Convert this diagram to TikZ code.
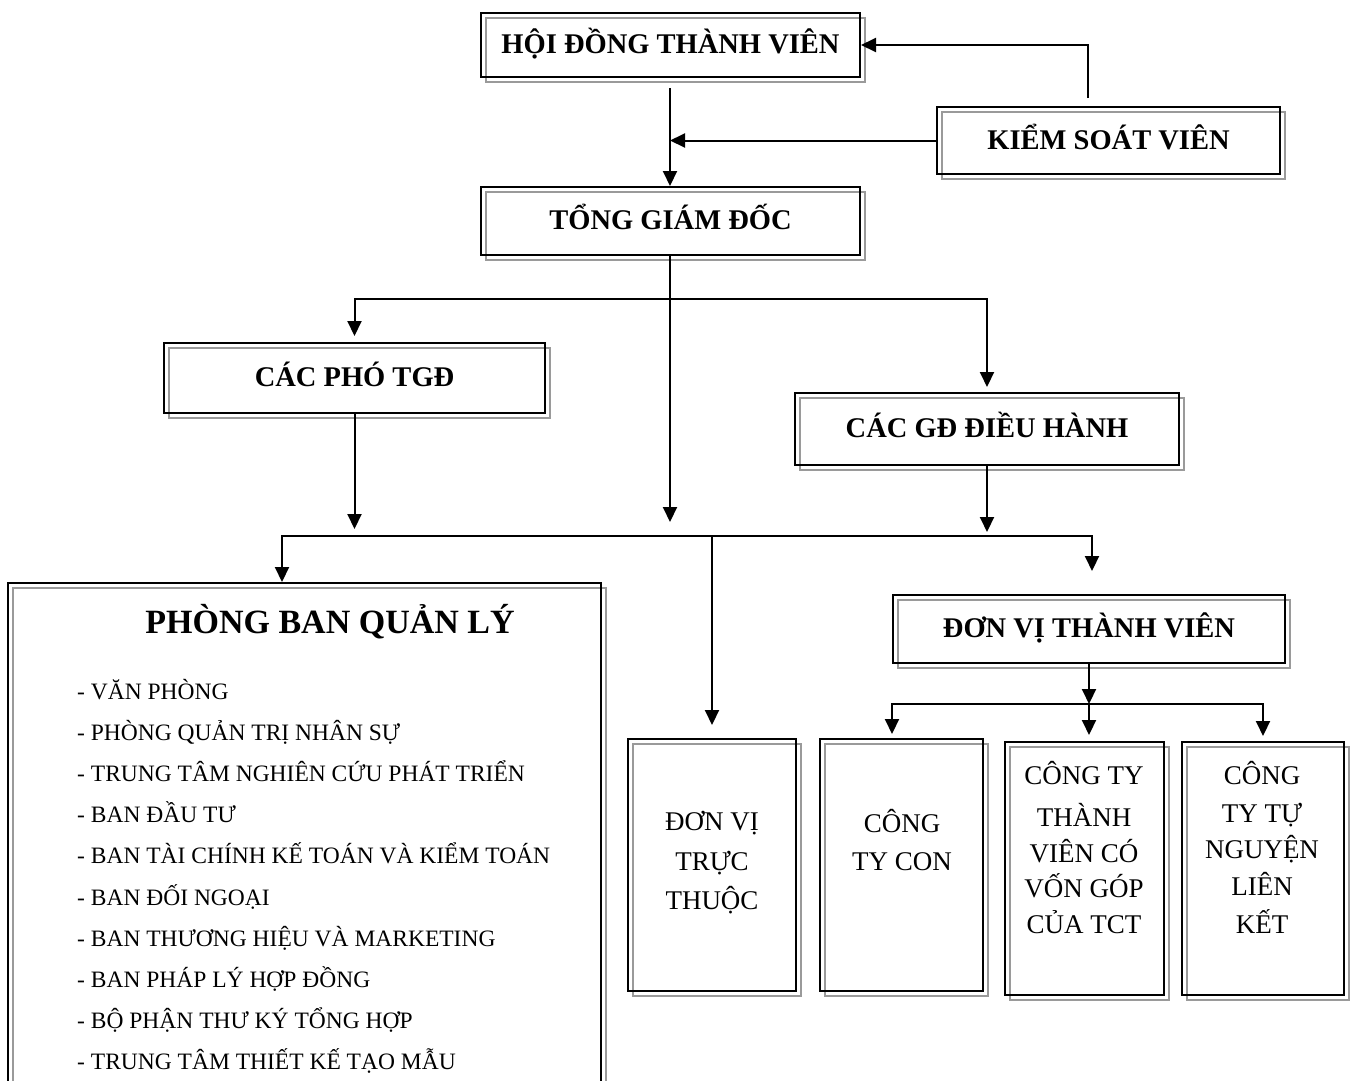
\documentclass[tikz,border=0pt]{standalone}
\usepackage{fontspec}
\setmainfont{Liberation Serif}
\usepackage{tikz}
\usetikzlibrary{arrows.meta, positioning, calc}
\definecolor{boxshadow}{HTML}{9A9A9A}

\begin{document}
\begin{tikzpicture}[x=1pt, y=-1pt,
    box/.style={rectangle, draw=black, line width=2pt, inner sep=0pt, align=center,
        preaction={draw=boxshadow, line width=2pt, transform canvas={shift={(5pt,-5pt)}}}},
    headbox/.style={box, font=\fontsize{28.5}{34}\selectfont\bfseries, text height=17pt, text depth=0pt},
    listitem/.style={anchor=base west, inner sep=0pt, font=\fontsize{23.5}{28}\selectfont},
    unittext/.style={anchor=base, inner sep=0pt, font=\fontsize{27}{32}\selectfont},
    arrow/.style={-{Triangle[length=15pt,width=14pt]}, line width=2pt}
]
\clip (0,0) rectangle (1351,1080);

% Top level
\node[headbox, minimum width=379pt, minimum height=64pt] (hdtv) at (670.5,45) {HỘI ĐỒNG THÀNH VIÊN};
\node[headbox, minimum width=343pt, minimum height=67pt] (ksv) at (1108.5,140.5) {KIỂM SOÁT VIÊN};
\node[headbox, minimum width=379pt, minimum height=68pt] (tgd) at (670.5,221) {TỔNG GIÁM ĐỐC};

% Deputies and directors
\node[headbox, minimum width=381pt, minimum height=70pt] (pho) at (354.5,378) {CÁC PHÓ TGĐ};
\node[headbox, minimum width=384pt, minimum height=72pt] (gddh) at (987,429) {CÁC GĐ ĐIỀU HÀNH};
\node[headbox, minimum width=392pt, minimum height=68pt] (dvtv) at (1089,629) {ĐƠN VỊ THÀNH VIÊN};

% Management departments
\node[box, minimum width=593pt, minimum height=530pt] (pbql) at (304.5,848) {};
\node[anchor=base, inner sep=0pt, font=\fontsize{34}{40}\selectfont\bfseries] (pbqltitle) at (330,633) {PHÒNG BAN QUẢN LÝ};
\foreach \t [count=\i] in {- VĂN PHÒNG, - PHÒNG QUẢN TRỊ NHÂN SỰ, - TRUNG TÂM NGHIÊN CỨU PHÁT TRIỂN,
    - BAN ĐẦU TƯ, - BAN TÀI CHÍNH KẾ TOÁN VÀ KIỂM TOÁN, - BAN ĐỐI NGOẠI,
    - BAN THƯƠNG HIỆU VÀ MARKETING, - BAN PHÁP LÝ HỢP ĐỒNG, - BỘ PHẬN THƯ KÝ TỔNG HỢP,
    - TRUNG TÂM THIẾT KẾ TẠO MẪU}
    \node[listitem] (pb\i) at (77,{699+41.2*(\i-1)}) {\t};

% Units
\node[box, minimum width=168pt, minimum height=252pt] (dvtt) at (712,865) {};
\node[box, minimum width=163pt, minimum height=252pt] (ctc) at (901.5,865) {};
\node[box, minimum width=159pt, minimum height=253pt] (cttv) at (1084.5,868.5) {};
\node[box, minimum width=162pt, minimum height=253pt] (cttn) at (1263,868.5) {};

\foreach \t/\y [count=\i] in {ĐƠN VỊ/830, TRỰC/870, THUỘC/909}
    \node[unittext] (dvtt\i) at (712,\y) {\t};
\foreach \t/\y [count=\i] in {CÔNG/832, TY CON/870}
    \node[unittext] (ctc\i) at (902,\y) {\t};
\foreach \t/\y [count=\i] in {CÔNG TY/784, THÀNH/826, VIÊN CÓ/862, VỐN GÓP/897, CỦA TCT/933}
    \node[unittext] (cttv\i) at (1084,\y) {\t};
\foreach \t/\y [count=\i] in {CÔNG/784, TY TỰ/822, NGUYỆN/858, LIÊN/895, KẾT/933}
    \node[unittext] (cttn\i) at (1262,\y) {\t};

% Junctions
\coordinate (jtop) at (670,299);
\coordinate (jmid) at (712,536);
\coordinate (jbot) at (1089,704);

% Connectors
\draw[arrow] ([xshift=-0.5pt,yshift=-10pt]hdtv.south) -- ([xshift=-0.5pt]tgd.north);
\draw[arrow] ([xshift=-20.5pt,yshift=8pt]ksv.north) |- (hdtv.east);
\draw[arrow] (ksv.west) -- (ksv.west -| jtop);
\draw[arrow, shorten >=14pt] (tgd.south -| jtop) -- (jtop |- jmid);
\draw[arrow, shorten >=6pt] (jtop) -| (pho.north);
\draw[arrow, shorten >=5pt] (jtop) -| (gddh.north);
\draw[arrow, shorten >=7pt] (pho.south) -- (pho.south |- jmid);
\draw[arrow, shorten >=4pt] (gddh.south) -- (gddh.south |- jmid);
\draw[arrow] (jmid) -| ([xshift=-22.5pt]pbql.north);
\draw[arrow, shorten >=13pt] (jmid) -- (dvtt.north);
\draw[arrow, shorten >=23pt] (jmid) -| ([xshift=3pt]dvtv.north);
\draw[arrow] (dvtv.south) -- (jbot);
\draw[arrow, shorten >=4pt] (jbot) -| ([xshift=-9.5pt]ctc.north);
\draw[arrow, shorten >=6pt] (jbot) -- (jbot |- cttv.north);
\draw[arrow, shorten >=5pt] (jbot) -| (cttn.north);

\end{tikzpicture}
\end{document}
